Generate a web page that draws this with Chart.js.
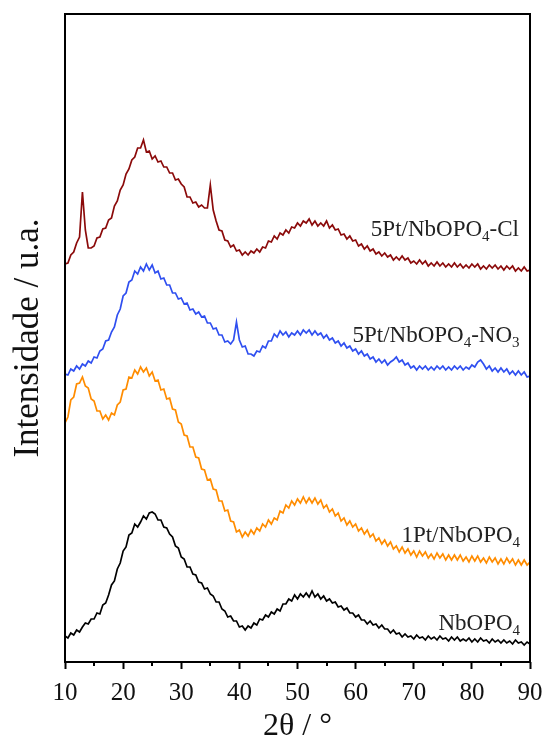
<!DOCTYPE html>
<html>
<head>
<meta charset="utf-8">
<script src="https://cdn.jsdelivr.net/npm/chart.js@4.4.1/dist/chart.umd.min.js"></script>
<style>
    html, body { margin:0; padding:0; background:#ffffff; }
    #wrap { width:543px; height:746px; position:relative; }
</style>
</head>
<body>
<div id="wrap"><canvas id="xrdChart"></canvas></div>
<script>

/*
=================================
DATA (2θ grid, 0.5° step)
=================================
*/

const twoTheta = [
    10,10.5,11,11.5,12,12.5,13,13.5,14,14.5,
    15,15.5,16,16.5,17,17.5,18,18.5,19,19.5,
    20,20.5,21,21.5,22,22.5,23,23.5,24,24.5,
    25,25.5,26,26.5,27,27.5,28,28.5,29,29.5,
    30,30.5,31,31.5,32,32.5,33,33.5,34,34.5,
    35,35.5,36,36.5,37,37.5,38,38.5,39,39.5,
    40,40.5,41,41.5,42,42.5,43,43.5,44,44.5,
    45,45.5,46,46.5,47,47.5,48,48.5,49,49.5,
    50,50.5,51,51.5,52,52.5,53,53.5,54,54.5,
    55,55.5,56,56.5,57,57.5,58,58.5,59,59.5,
    60,60.5,61,61.5,62,62.5,63,63.5,64,64.5,
    65,65.5,66,66.5,67,67.5,68,68.5,69,69.5,
    70,70.5,71,71.5,72,72.5,73,73.5,74,74.5,
    75,75.5,76,76.5,77,77.5,78,78.5,79,79.5,
    80,80.5,81,81.5,82,82.5,83,83.5,84,84.5,
    85,85.5,86,86.5,87,87.5,88,88.5,89,89.5,
    90
];

// NbOPO4
const nbopo4 = [
    26,24,29,27,32,30,35,39,38,43,
    43,49,48,57,59,67,77,81,93,99,
    111,115,127,129,138,135,140,146,143,149,
    150,148,142,142,135,134,128,125,116,114,
    105,103,95,95,88,87,80,79,73,74,
    68,66,60,60,53,51,45,46,41,41,
    35,36,32,36,34,39,37,43,42,47,
    45,50,48,53,51,58,58,63,61,67,
    63,68,65,69,65,71,65,68,63,66,
    61,63,59,60,55,56,52,54,49,49,
    45,47,42,42,38,41,37,38,34,37,
    33,33,29,32,28,29,25,28,25,26,
    23,27,24,25,22,26,23,25,22,26,
    23,24,21,25,22,25,21,23,21,24,
    20,23,20,24,21,22,19,23,20,22,
    19,22,19,21,18,22,19,20,17,20,
    18
];

// 1Pt/NbOPO4
const pt1 = [
    239,245,262,265,278,279,285,276,274,263,
    261,251,251,243,247,242,249,247,257,260,
    272,273,285,284,292,288,295,290,294,286,
    290,281,282,272,273,263,264,253,252,240,
    238,227,226,215,215,205,204,193,192,182,
    183,173,172,161,161,151,152,141,140,130,
    132,125,130,126,132,128,134,131,138,135,
    142,138,144,142,151,149,157,154,161,157,
    163,159,165,159,164,159,164,158,162,154,
    157,150,153,146,149,141,144,137,141,135,
    138,131,134,128,132,125,128,121,124,118,
    122,116,120,113,116,110,115,109,113,107,
    111,105,111,106,110,104,108,103,109,104,
    108,102,107,102,107,102,107,101,105,100,
    106,101,106,100,104,99,105,100,104,98,
    103,98,104,99,103,97,102,97,102,97,
    100
];

// 5Pt/NbOPO4-NO3
const pt5NO3 = [
    288,287,293,291,296,293,298,296,301,299,
    305,304,311,313,321,322,330,335,347,353,
    366,369,380,382,391,388,395,391,398,392,
    397,389,391,383,384,377,377,369,369,363,
    364,358,359,352,353,348,350,345,346,339,
    339,333,334,327,327,320,321,318,322,340,
    322,315,316,308,308,306,311,310,316,314,
    321,321,328,325,331,327,330,325,329,327,
    331,327,332,329,332,327,331,327,329,324,
    327,322,324,319,321,316,319,314,316,311,
    313,308,311,306,308,303,305,300,303,299,
    302,297,300,302,305,300,302,297,299,294,
    296,292,296,293,296,292,295,292,296,293,
    296,292,295,292,296,293,296,292,295,293,
    297,295,300,302,298,293,296,291,294,290,
    294,290,293,288,291,287,291,287,290,285,
    286
];

// 5Pt/NbOPO4-Cl
const pt5Cl = [
    398,399,407,410,419,425,470,432,414,414,
    416,424,425,433,434,442,444,456,461,472,
    477,488,493,502,505,514,514,522,510,511,
    503,506,500,501,495,495,489,489,482,483,
    478,475,465,465,459,460,455,457,454,454,
    477,452,441,432,431,422,421,415,417,411,
    412,407,410,407,411,409,413,410,415,414,
    421,420,426,423,429,427,432,429,435,434,
    439,436,441,439,443,437,441,436,439,436,
    441,434,437,432,433,427,428,423,426,421,
    422,416,418,413,416,411,413,408,410,406,
    409,405,407,402,405,402,406,402,404,399,
    401,398,402,398,401,396,399,396,400,396,
    399,395,398,395,399,395,398,394,397,394,
    398,395,398,393,396,393,397,394,397,393,
    396,392,396,393,396,391,394,391,395,391,
    392
];

const seriesColors = ["#000000", "#ff8c00", "#2f4ff0", "#8b0a0a"];

const seriesLabels = [
    [{ t:"NbOPO" }, { t:"4", sub:true }],
    [{ t:"1Pt/NbOPO" }, { t:"4", sub:true }],
    [{ t:"5Pt/NbOPO" }, { t:"4", sub:true }, { t:"-NO" }, { t:"3", sub:true }],
    [{ t:"5Pt/NbOPO" }, { t:"4", sub:true }, { t:"-Cl" }]
];

// label anchor: right end (2θ) and baseline (intensity)
const labelAnchorX = [88.3, 88.3, 88.2, 88.1];
const labelAnchorY = [32, 120, 320, 426];

const majorTicks = [10, 20, 30, 40, 50, 60, 70, 80, 90];
const minorTicks = [15, 25, 35, 45, 55, 65, 75, 85];

/*
=================================
HELPERS
=================================
*/

const SERIF = "'Liberation Serif', 'Times New Roman', serif";

function toPoints(values){
    return twoTheta.map((x, i) => ({ x: x, y: values[i] }));
}

/*
=================================
FRAME + MINOR TICKS + LABELS
=================================
*/

const framePlugin = {
    id: "frame",
    afterDraw(chart){
        const ctx = chart.ctx;
        const area = chart.chartArea;
        const xScale = chart.scales.x;
        const yScale = chart.scales.y;

        ctx.save();
        ctx.strokeStyle = "#000";
        ctx.lineWidth = 2;
        ctx.strokeRect(area.left, area.top, area.right - area.left, area.bottom - area.top);

        // minor ticks
        minorTicks.forEach(v => {
            const px = Math.round(xScale.getPixelForValue(v));
            ctx.beginPath();
            ctx.moveTo(px, area.bottom);
            ctx.lineTo(px, area.bottom + 4);
            ctx.stroke();
        });

        // series labels with subscripts
        ctx.fillStyle = "#222";
        ctx.textBaseline = "alphabetic";
        ctx.textAlign = "left";

        seriesLabels.forEach((parts, i) => {
            const mainFont = "23px " + SERIF;
            const subFont = "15px " + SERIF;

            let total = 0;
            parts.forEach(p => {
                ctx.font = p.sub ? subFont : mainFont;
                total += ctx.measureText(p.t).width;
            });

            let x = xScale.getPixelForValue(labelAnchorX[i]) - total;
            const y = yScale.getPixelForValue(labelAnchorY[i]);

            parts.forEach(p => {
                ctx.font = p.sub ? subFont : mainFont;
                ctx.fillText(p.t, x, p.sub ? y + 5 : y);
                x += ctx.measureText(p.t).width;
            });
        });

        ctx.restore();
    }
};

/*
=================================
CHART
=================================
*/

const datasets = [nbopo4, pt1, pt5NO3, pt5Cl].map((values, i) => ({
    data: toPoints(values),
    borderColor: seriesColors[i],
    borderWidth: 1.7,
    pointRadius: 0,
    tension: 0,
    fill: false
}));

new Chart(document.getElementById("xrdChart"), {
    type: "line",
    data: { datasets: datasets },
    plugins: [framePlugin],
    options: {
        responsive: true,
        maintainAspectRatio: false,
        animation: false,
        events: [],
        layout: {
            padding: { top: 14, right: 13, left: 0, bottom: 0 }
        },
        plugins: {
            legend: { display: false },
            tooltip: { enabled: false }
        },
        scales: {
            x: {
                type: "linear",
                min: 10,
                max: 90,
                afterBuildTicks(scale){
                    scale.ticks = majorTicks.map(v => ({ value: v }));
                },
                afterFit(scale){
                    scale.height = 84;
                    scale.paddingLeft = 0;
                    scale.paddingRight = 0;
                },
                ticks: {
                    color: "#111",
                    font: { family: SERIF, size: 25 },
                    padding: 9,
                    maxRotation: 0
                },
                grid: {
                    drawOnChartArea: false,
                    drawTicks: true,
                    tickLength: 7,
                    tickWidth: 2,
                    tickColor: "#000"
                },
                border: { display: false },
                title: {
                    display: true,
                    text: "2θ / °",
                    color: "#111",
                    font: { family: SERIF, size: 32 },
                    padding: { top: 0, bottom: 0 }
                }
            },
            y: {
                min: 0,
                max: 648,
                afterFit(scale){
                    scale.width = 65;
                },
                ticks: { display: false },
                grid: { display: false },
                border: { display: false },
                title: {
                    display: true,
                    text: "Intensidade / u.a.",
                    color: "#111",
                    font: { family: SERIF, size: 35 },
                    padding: { top: 8, bottom: 0 }
                }
            }
        }
    }
});
</script>
</body>
</html>
